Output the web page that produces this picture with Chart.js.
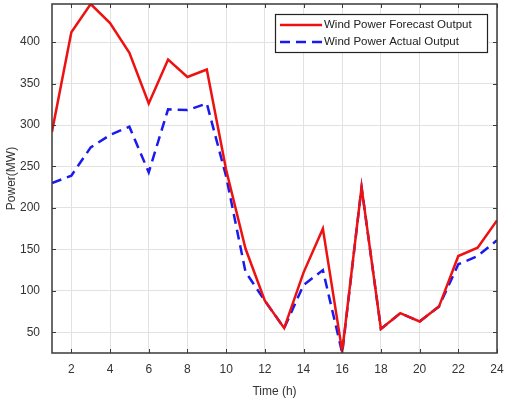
<!DOCTYPE html>
<html>
<head>
<meta charset="utf-8">
<script src="https://cdn.jsdelivr.net/npm/chart.js@4.4.1/dist/chart.umd.min.js"></script>
<style>
  html, body { margin: 0; padding: 0; background: #fff; }
  #wrap { width: 505px; height: 399px; }
</style>
</head>
<body>
<div id="wrap"><canvas id="windChart" width="505" height="399"></canvas></div>
<script>
// hours of the day
const hours = [1, 2, 3, 4, 5, 6, 7, 8, 9, 10, 11, 12, 13, 14, 15, 16, 17, 18, 19, 20, 21, 22, 23, 24];
// forecast output (MW)
const forecast = [292, 412, 446, 423, 387, 326, 379, 358, 367, 246, 151, 88, 55, 122, 175, 27, 225, 54, 73, 63, 81, 142, 152, 185];
// actual output (MW)
const actual = [230, 239, 273, 288, 298, 243, 319, 318, 326, 238, 123, 88, 55, 107, 125, 25, 225, 54, 73, 63, 81, 132, 142, 161];
const xTicks = [2, 4, 6, 8, 10, 12, 14, 16, 18, 20, 22, 24];
const yTicks = [50, 100, 150, 200, 250, 300, 350, 400];
const seriesNames = ["Wind Power Forecast Output", "Wind Power Actual Output"];

const fontFam = "'Liberation Sans', Arial, sans-serif";

// axis tight like matlab
const yMin = Math.min(...forecast, ...actual);
const yMax = Math.max(...forecast, ...actual);

// chart.js reserves room for half tick labels, matlab doesn't
function noEdgePadding(s) {
    s.paddingTop = 0;
    s.paddingBottom = 0;
    s.paddingLeft = 0;
    s.paddingRight = 0;
}

// box round the axes, inward ticks and the legend
const matlabAxes = {
    id: "matlabAxes",
    afterDatasetsDraw(chart) {
        const ctx = chart.ctx;
        const a = chart.chartArea;
        const xs = chart.scales.x;
        const ys = chart.scales.y;
        ctx.save();
        ctx.strokeStyle = "#3a3a3a";
        ctx.lineWidth = 1;
        ctx.beginPath();
        xTicks.forEach(v => {
            const px = Math.round(xs.getPixelForValue(v)) + 0.5;
            ctx.moveTo(px, a.bottom); ctx.lineTo(px, a.bottom - 4);
            ctx.moveTo(px, a.top); ctx.lineTo(px, a.top + 4);
        });
        yTicks.forEach(v => {
            const py = Math.round(ys.getPixelForValue(v)) + 0.5;
            ctx.moveTo(a.left, py); ctx.lineTo(a.left + 4, py);
            ctx.moveTo(a.right, py); ctx.lineTo(a.right - 4, py);
        });
        ctx.stroke();
        ctx.lineWidth = 1.5;
        ctx.strokeRect(a.left, a.top, a.right - a.left, a.bottom - a.top);

        // legend box
        const lx = 275, ly = 14, lw = 212, lh = 38;
        ctx.fillStyle = "#fff";
        ctx.fillRect(lx, ly, lw, lh);
        ctx.strokeStyle = "#222";
        ctx.lineWidth = 1.2;
        ctx.strokeRect(lx + 0.5, ly + 0.5, lw, lh);
        ctx.font = "11.5px " + fontFam;
        ctx.textBaseline = "middle";
        chart.data.datasets.forEach((ds, i) => {
            const rowY = ly + 11 + i * 17;
            ctx.strokeStyle = ds.borderColor;
            ctx.lineWidth = ds.borderWidth;
            ctx.setLineDash(ds.borderDash || []);
            ctx.beginPath();
            ctx.moveTo(lx + 5, rowY);
            ctx.lineTo(lx + 47, rowY);
            ctx.stroke();
            ctx.setLineDash([]);
            ctx.fillStyle = "#222";
            ctx.fillText(ds.label, lx + 49, rowY);
        });
        ctx.restore();
    }
};

new Chart(document.getElementById("windChart").getContext("2d"), {
    type: "line",
    data: {
        datasets: [{
            label: seriesNames[0],
            data: hours.map((h, i) => ({ x: h, y: forecast[i] })),
            borderColor: "#ee1111",
            borderWidth: 2.5,
            pointRadius: 0,
            tension: 0
        }, {
            label: seriesNames[1],
            data: hours.map((h, i) => ({ x: h, y: actual[i] })),
            borderColor: "#1a1aee",
            borderWidth: 2.5,
            borderDash: [10, 6],
            pointRadius: 0,
            tension: 0
        }]
    },
    options: {
        responsive: false,
        animation: false,
        layout: { padding: { top: 4, right: 8, left: 0, bottom: 0 } },
        plugins: {
            legend: { display: false },
            tooltip: { enabled: false }
        },
        scales: {
            x: {
                type: "linear",
                min: 1,
                max: 24,
                afterBuildTicks: s => { s.ticks = xTicks.map(v => ({ value: v })); },
                afterFit: s => { s.height = 46; noEdgePadding(s); },
                grid: { color: "#e2e2e2", drawTicks: false },
                border: { display: false },
                ticks: {
                    color: "#333",
                    padding: 9,
                    maxRotation: 0,
                    font: { family: fontFam, size: 12 }
                },
                title: {
                    display: true,
                    text: "Time (h)",
                    color: "#333",
                    padding: { top: 1, bottom: 0 },
                    font: { family: fontFam, size: 12 }
                }
            },
            y: {
                min: yMin,
                max: yMax,
                afterBuildTicks: s => { s.ticks = yTicks.map(v => ({ value: v })); },
                afterFit: s => { s.width = 52; noEdgePadding(s); },
                grid: { color: "#e2e2e2", drawTicks: false },
                border: { display: false },
                ticks: {
                    color: "#333",
                    padding: 12,
                    font: { family: fontFam, size: 12 }
                },
                title: {
                    display: true,
                    text: "Power(MW)",
                    color: "#333",
                    padding: { top: 4, bottom: 0 },
                    font: { family: fontFam, size: 12 }
                }
            }
        }
    },
    plugins: [matlabAxes]
});
</script>
</body>
</html>
